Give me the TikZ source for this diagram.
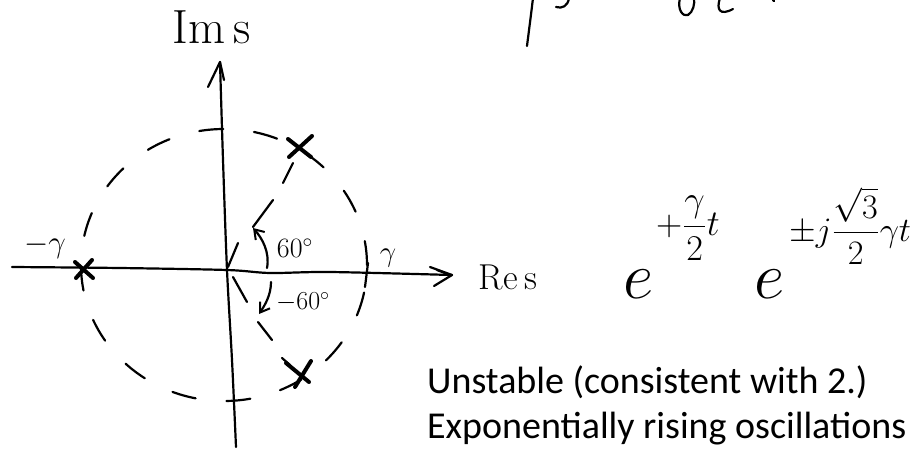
\documentclass[tikz,border=0pt]{standalone}
\usepackage{amsmath}
\usepackage{graphicx}
\usepackage{fontspec}
\newfontfamily\calib{Carlito}
\usetikzlibrary{arrows.meta}
\tikzset{
  hand/.style={line width=2.2pt, line cap=round, line join=round, black},
  pole/.style={line width=4pt, line cap=round, black},
  dashring/.style={hand, dash pattern=on 24pt off 31pt},
  harrow/.style={hand, -{Straight Barb[length=9pt, width=12pt, line width=2pt]}},
  lbl/.style={inner sep=0pt, text=black},
}
\newcommand{\bigmath}[2]{\scalebox{#1}{\fontsize{20}{24}\selectfont $#2$}}
\begin{document}
\begin{tikzpicture}[x=1pt, y=-1pt]
\useasboundingbox[fill=white] (0,0) rectangle (918,450);
% named points
\coordinate (O) at (227,269);
\coordinate (Pu) at (299,147);
\coordinate (Pl) at (300,373);
\coordinate (Pm) at (84,269);
% top cropped handwriting fragments
\draw[hand] (527,46) .. controls (529,30) and (531,15) .. (533,-2);
\draw[hand] (556,7) .. controls (562,9) and (568,6) .. (569,-2);
\draw[hand] (680,-2) .. controls (677,10) and (683,17) .. (688,15) .. controls (693,12) and (695,4) .. (694,-2);
\draw[hand] (720,-2) .. controls (716,10) and (720,16) .. (733,9);
\draw[hand] (773,0) -- (774,1);
% dashed circle
\draw[dashring] (224,265) ellipse [x radius=143pt, y radius=136pt];
% horizontal axis
\draw[hand] plot[smooth] coordinates {(12,267) (120,268) (227,270) (270,273) (330,272) (452,275)};
\draw[hand] (430,267) -- (452,275) -- (434,286);
\draw[hand] (437,270) -- (450,275);
% vertical axis
\draw[hand] plot[smooth] coordinates {(236,447) (232,360) (227,270) (223,160) (220,62)};
\draw[hand] (208,87) -- (220,62) -- (224,80);
% gamma tick
\draw[hand] (368,263) -- (365,287);
% dashed rays to poles
\draw[hand] (228,267) -- (238,243);
\draw[hand] (253,227) -- (273,200);
\draw[hand] (283,183) -- (293,163);
\draw[hand] (233,277) -- (247,302);
\draw[hand] (258,322) -- (272,340);
\draw[hand] (282,358) -- (290,365);
% angle arrows
\draw[harrow] (267,268) .. controls (270,252) and (262,238) .. (253,228);
\draw[harrow] (271,282) .. controls (271,295) and (265,305) .. (259,314);
% poles
\draw[pole] (288,139) -- (311,157);
\draw[pole] (312,136) -- (289,157);
\draw[pole] (75,262) -- (93,278);
\draw[pole] (92,260) -- (76,278);
\draw[pole] (311,361) -- (295,387);
\draw[pole] (286,363) -- (309,382);
% labels
\node[lbl] (ims) at (212,27) {\fontsize{48}{50}\selectfont Im\,s};
\node[lbl] (res) at (508,277) {\fontsize{36}{38}\selectfont Re\,s};
\node[lbl] (mg) at (45,246) {\bigmath{1.5}{-\gamma}};
\node[lbl] (g) at (388,258) {\bigmath{1.4}{\gamma}};
\node[lbl] (a1) at (295,248) {\bigmath{1.35}{60^{\circ}}};
\node[lbl] (a2) at (303,302) {\bigmath{1.25}{-60^{\circ}}};
% exponentials
\node[lbl, anchor=base west] (e1) at (623,298) {\bigmath{3.2}{e}};
\node[lbl, anchor=west] (x1) at (656,228) {\bigmath{1.75}{\displaystyle +\frac{\gamma}{2}t}};
\node[lbl, anchor=base west] (e2) at (754,298) {\bigmath{3.2}{e}};
\node[lbl, anchor=west] (x2) at (789,226) {\bigmath{1.65}{\displaystyle \pm j\frac{\sqrt{3}}{2}\gamma t}};
% text
\node[lbl, anchor=base west] (t1) at (427,393) {\fontsize{38}{46}\calib Unstable (consistent with 2.)};
\node[lbl, anchor=base west] (t2) at (427,438) {\fontsize{38}{46}\calib Exponentially rising oscillations};
\end{tikzpicture}
\end{document}
